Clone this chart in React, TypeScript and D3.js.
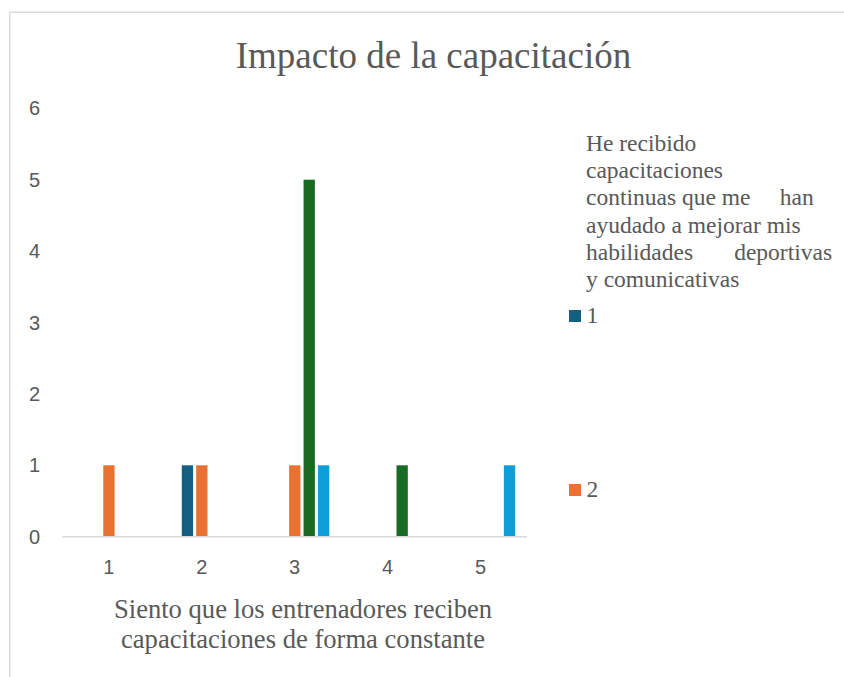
import React from 'react';
import * as d3 from 'd3';

const categories = ['1', '2', '3', '4', '5'];
const seriesNames = ['1', '2', '3', '4'];
// values[series][category]
const seriesValues = [
  [0, 1, 0, 0, 0],
  [1, 1, 1, 0, 0],
  [0, 0, 5, 1, 0],
  [0, 0, 1, 0, 1],
];
const yTicks = [0, 1, 2, 3, 4, 5, 6];
const seriesColors = ['#156082', '#E97132', '#196B24', '#0F9ED5'];

const chartTitle = 'Impacto de la capacitación';
const xTitleLines = ['Siento que los entrenadores reciben', 'capacitaciones de forma constante'];
const legendTitleLines = [
  'He recibido',
  'capacitaciones',
  'continuas que me     han',
  'ayudado a mejorar mis',
  'habilidades       deportivas',
  'y comunicativas',
];

const W = 844;
const H = 677;
const textColor = '#595959';
const lineColor = '#d9d9d9';
const serif = '"Liberation Serif", "Times New Roman", serif';
const sans = '"Liberation Sans", Arial, sans-serif';

const App: React.FC = () => {
  const x0 = d3.scaleBand<string>().domain(categories).range([62.3, 527]).padding(0);
  // bars inside a category sit slightly right of its centre, as in the source
  const x1 = d3
    .scaleBand<string>()
    .domain(seriesNames)
    .range([-21.5, 36.2])
    .paddingInner(0.215)
    .paddingOuter(0.1075);
  const y = d3.scaleLinear().domain([0, 6]).range([536.7, 108.3]);

  const legendItemsY = [316, 490];

  return (
    <svg
      width={W}
      height={H}
      style={{ position: 'absolute', left: 0, top: 0, background: '#fff' }}
    >
      {/* frame */}
      <line x1={9.7} y1={12.3} x2={W} y2={12.3} stroke={lineColor} strokeWidth={1.5} />
      <line x1={9.7} y1={12.3} x2={9.7} y2={H} stroke={lineColor} strokeWidth={1.5} />

      <text
        x={433.5}
        y={67.7}
        textAnchor="middle"
        fontFamily={serif}
        fontSize={37}
        fill={textColor}
      >
        {chartTitle}
      </text>

      {/* y axis labels */}
      {yTicks.map((t) => (
        <text
          key={t}
          x={40}
          y={y(t) + 7}
          textAnchor="end"
          fontFamily={sans}
          fontSize={20}
          fill={textColor}
        >
          {t}
        </text>
      ))}

      {/* bars */}
      {categories.map((c, ci) => {
        const cx = (x0(c) ?? 0) + x0.bandwidth() / 2;
        return (
          <g key={c} transform={`translate(${cx},0)`}>
            {seriesNames.map((s, si) => {
              const v = seriesValues[si][ci];
              if (!v) return null;
              return (
                <rect
                  key={s}
                  x={x1(s)}
                  y={y(v)}
                  width={x1.bandwidth()}
                  height={y(0) - y(v)}
                  fill={seriesColors[si]}
                />
              );
            })}
          </g>
        );
      })}

      {/* x axis */}
      <line
        x1={x0.range()[0]}
        x2={x0.range()[1]}
        y1={y(0)}
        y2={y(0)}
        stroke={lineColor}
        strokeWidth={1.5}
      />
      {categories.map((c) => (
        <text
          key={c}
          x={(x0(c) ?? 0) + x0.bandwidth() / 2}
          y={574}
          textAnchor="middle"
          fontFamily={sans}
          fontSize={20}
          fill={textColor}
        >
          {c}
        </text>
      ))}
      {xTitleLines.map((l, i) => (
        <text
          key={i}
          x={303}
          y={618.3 + i * 30}
          textAnchor="middle"
          fontFamily={serif}
          fontSize={26.6}
          fill={textColor}
        >
          {l}
        </text>
      ))}

      {/* legend */}
      {legendTitleLines.map((l, i) => (
        <text
          key={i}
          x={586}
          y={150.7 + i * 27.3}
          fontFamily={serif}
          fontSize={23.5}
          fill={textColor}
          style={{ whiteSpace: 'pre' }}
        >
          {l}
        </text>
      ))}
      {legendItemsY.map((ly, i) => (
        <g key={i}>
          <rect x={569} y={ly - 6} width={12} height={12} fill={seriesColors[i]} />
          <text
            x={586.5}
            y={ly + 6.5}
            fontFamily={serif}
            fontSize={23.5}
            fill={textColor}
          >
            {seriesNames[i]}
          </text>
        </g>
      ))}
    </svg>
  );
};

export default App;
